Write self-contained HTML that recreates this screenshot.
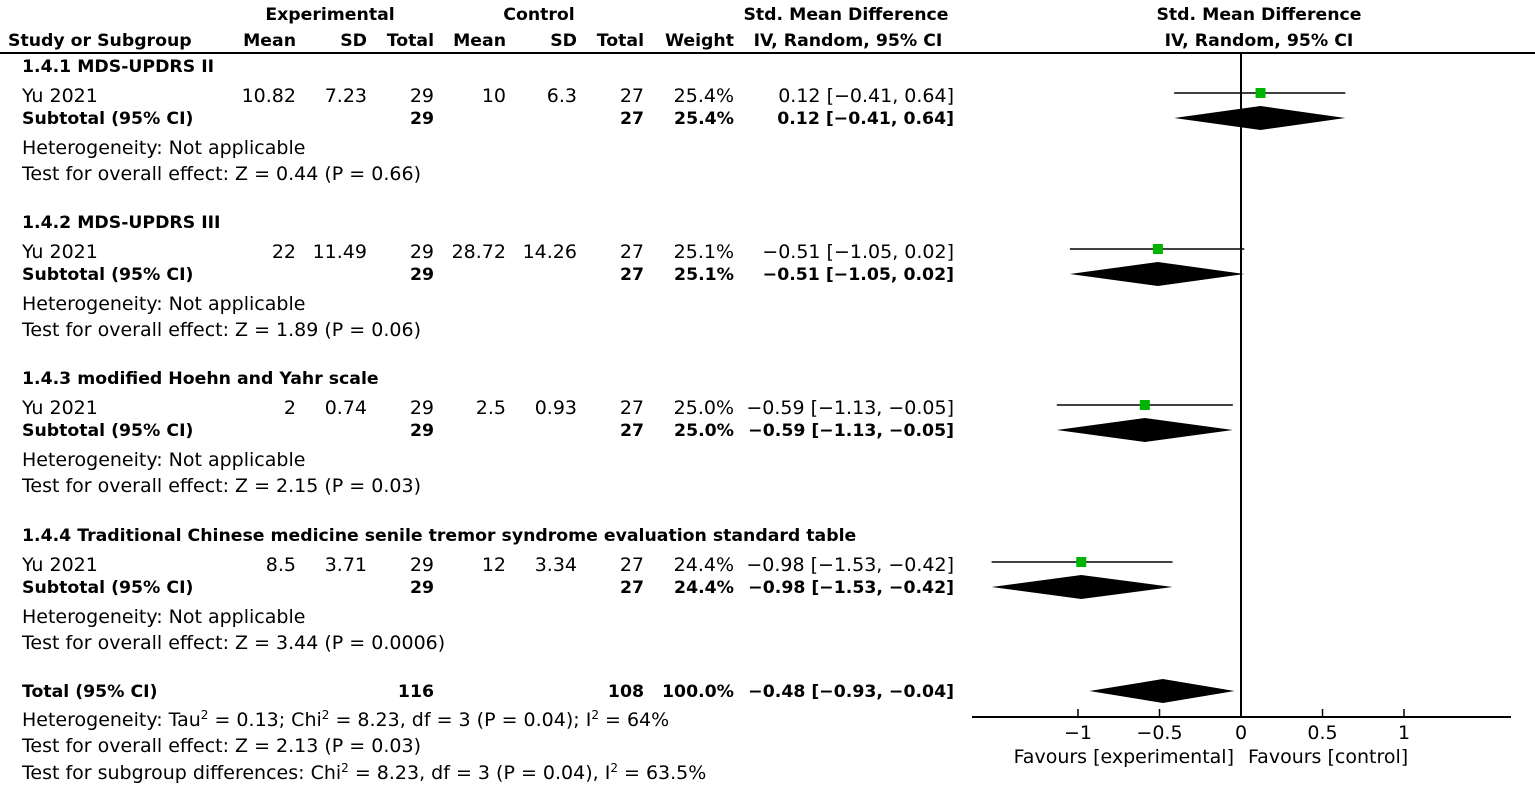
<!DOCTYPE html>
<html><head><meta charset="utf-8"><style>
html,body{margin:0;padding:0;background:#fff;}
svg{display:block;font-family:"DejaVu Sans","Liberation Sans",sans-serif;font-size:19px;}
.b{font-weight:bold;font-size:17.3px;}
</style></head><body>
<svg id="c" width="1535" height="789" viewBox="0 0 1535 789"></svg>
<script>
const groupTitles=["1.4.1 MDS-UPDRS II","1.4.2 MDS-UPDRS III","1.4.3 modified Hoehn and Yahr scale","1.4.4 Traditional Chinese medicine senile tremor syndrome evaluation standard table"];
const expMean=["10.82","22","2","8.5"];
const expSD=["7.23","11.49","0.74","3.71"];
const expN=["29","29","29","29"];
const ctlMean=["10","28.72","2.5","12"];
const ctlSD=["6.3","14.26","0.93","3.34"];
const ctlN=["27","27","27","27"];
const weights=["25.4%","25.1%","25.0%","24.4%"];
const estimates=[0.12,-0.51,-0.59,-0.98];
const lowers=[-0.41,-1.05,-1.13,-1.53];
const uppers=[0.64,0.02,-0.05,-0.42];
const ciText=["0.12 [−0.41, 0.64]","−0.51 [−1.05, 0.02]","−0.59 [−1.13, −0.05]","−0.98 [−1.53, −0.42]"];
const zText=["Test for overall effect: Z = 0.44 (P = 0.66)","Test for overall effect: Z = 1.89 (P = 0.06)","Test for overall effect: Z = 2.15 (P = 0.03)","Test for overall effect: Z = 3.44 (P = 0.0006)"];
const totalEst=-0.48, totalLo=-0.93, totalHi=-0.04;
const tickVals=[-1,-0.5,0,0.5,1];
const tickLabels=["−1","−0.5","0","0.5","1"];

const svg=document.getElementById('c');
const NS="http://www.w3.org/2000/svg";
const X=v=>1241+v*163;
function el(tag,attrs,name){const e=document.createElementNS(NS,tag);for(const k in attrs)e.setAttribute(k,attrs[k]);


svg.appendChild(e);return e;}
function txt(s,x,y,name,anchor,bold){const t=el('text',{x:x,y:y+6,'text-anchor':anchor||'start'},name);if(bold)t.setAttribute('class','b');t.textContent=s;return t;}

txt("Experimental",330,14,"experimental-header","middle",1);
txt("Control",539,14,"control-header","middle",1);
txt("Std. Mean Difference",846,14,"smd-header","middle",1);
txt("IV, Random, 95% CI",848,40,"smd-method-header","middle",1);
txt("Std. Mean Difference",1259,14,"plot-header","middle",1);
txt("IV, Random, 95% CI",1259,40,"plot-method-header","middle",1);
txt("Study or Subgroup",8,40,"study-header","start",1);
const hx=[296,367,434,506,577,644,734],hl=["Mean","SD","Total","Mean","SD","Total","Weight"];
hx.forEach((x,i)=>txt(hl[i],x,40,"column-header","end",1));
el('line',{x1:0,y1:53,x2:1535,y2:53,stroke:'#000','stroke-width':2},"header-rule");
el('line',{x1:X(0),y1:54,x2:X(0),y2:717,stroke:'#000','stroke-width':2},"zero-line");

const base=[66,222,378,535];
groupTitles.forEach((g,i)=>{
 const y=base[i];
 txt(g,22,y,"group-title","start",1);
 const yr=y+30, ys=y+52;
 txt("Yu 2021",22,yr,"study-label");
 [expMean[i],expSD[i],expN[i],ctlMean[i],ctlSD[i],ctlN[i],weights[i]].forEach((v,j)=>txt(v,hx[j],yr,"study-value","end"));
 txt(ciText[i],954,yr,"study-ci","end");
 txt("Subtotal (95% CI)",22,ys,"subtotal-label","start",1);
 txt(expN[i],434,ys,"subtotal-exp-n","end",1);
 txt(ctlN[i],644,ys,"subtotal-ctl-n","end",1);
 txt(weights[i],734,ys,"subtotal-weight","end",1);
 txt(ciText[i],954,ys,"subtotal-ci","end",1);
 txt("Heterogeneity: Not applicable",22,y+82,"heterogeneity-text");
 txt(zText[i],22,y+108,"overall-effect-text");
 const cy=y+27;
 el('line',{x1:X(lowers[i]),y1:cy,x2:X(uppers[i]),y2:cy,stroke:'#000','stroke-width':1.5},"ci-line");
 el('rect',{x:X(estimates[i])-5,y:cy-5,width:10,height:10,fill:'#00b400'},"study-square");
 el('polygon',{points:`${X(lowers[i])},${ys} ${X(estimates[i])},${ys-12} ${X(uppers[i])},${ys} ${X(estimates[i])},${ys+12}`,fill:'#000'},"subtotal-diamond");
});
txt("Total (95% CI)",22,691,"total-label","start",1);
txt("116",434,691,"total-exp-n","end",1);
txt("108",644,691,"total-ctl-n","end",1);
txt("100.0%",734,691,"total-weight","end",1);
txt("−0.48 [−0.93, −0.04]",954,691,"total-ci","end",1);
el('polygon',{points:`${X(totalLo)},${691} ${X(totalEst)},${679} ${X(totalHi)},${691} ${X(totalEst)},${703}`,fill:'#000'},"total-diamond");
const h=txt("",22,720,"total-heterogeneity");
h.innerHTML='Heterogeneity: Tau<tspan font-size="12" dy="-7">2</tspan><tspan dy="7"> = 0.13; Chi</tspan><tspan font-size="12" dy="-7">2</tspan><tspan dy="7"> = 8.23, df = 3 (P = 0.04); I</tspan><tspan font-size="12" dy="-7">2</tspan><tspan dy="7"> = 64%</tspan>';
txt("Test for overall effect: Z = 2.13 (P = 0.03)",22,746,"total-overall-effect");
const s=txt("",22,773,"subgroup-differences");
s.innerHTML='Test for subgroup differences: Chi<tspan font-size="12" dy="-7">2</tspan><tspan dy="7"> = 8.23, df = 3 (P = 0.04), I</tspan><tspan font-size="12" dy="-7">2</tspan><tspan dy="7"> = 63.5%</tspan>';
el('line',{x1:972,y1:717,x2:1511,y2:717,stroke:'#000','stroke-width':2},"x-axis");
tickVals.forEach((v,i)=>{
 el('line',{x1:X(v),y1:709,x2:X(v),y2:717,stroke:'#000','stroke-width':1.5},"x-tick");
 txt(tickLabels[i],X(v),733,"x-tick-label","middle");
});
txt("Favours [experimental]",1234,757,"favours-experimental","end");
txt("Favours [control]",1248,757,"favours-control","start");
</script>
</body></html>
